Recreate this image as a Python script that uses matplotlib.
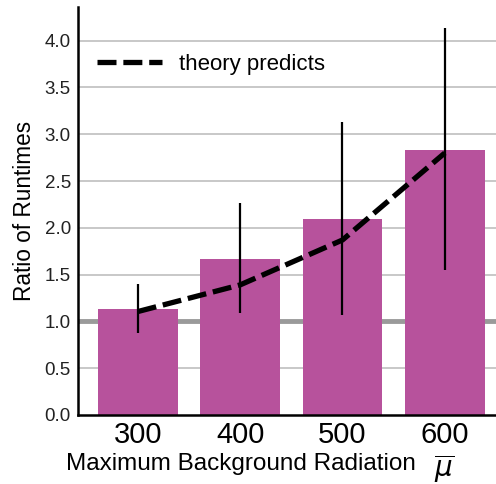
import numpy as np
import matplotlib.pyplot as plt

plt.rcParams['font.family'] = ['Liberation Sans', 'DejaVu Sans']

# datos
radiacion = ['300', '400', '500', '600']
ratio = [1.13, 1.665, 2.09, 2.83]
err_bajo = [0.88, 1.09, 1.07, 1.55]
err_alto = [1.40, 2.26, 3.13, 4.13]
teoria = [1.105, 1.39, 1.87, 2.80]

x = np.arange(len(radiacion))

fig = plt.figure(figsize=(4.96, 4.84), dpi=100)
ax = fig.add_axes([0.157, 0.1426, 0.843, 0.843])

# cuadricula y linea de referencia
for y in np.arange(0.5, 4.5, 0.5):
    ax.axhline(y, color='#c4c4c4', lw=1.3, zorder=0)
ax.axhline(1.0, color='#9a9a9a', lw=3.5, zorder=0.5)

ax.bar(x, ratio, width=0.78, color='#b7529c', zorder=1)
ax.vlines(x, err_bajo, err_alto, color='black', lw=1.6, zorder=3)
ax.plot(x, teoria, color='black', lw=3.8, dashes=(3.6, 1.3),
        label='theory predicts', zorder=4)

ax.set_xlim(-0.585, 3.5)
ax.set_ylim(0, 4.36)
ax.set_yticks(np.arange(0, 4.5, 0.5))
ax.set_yticklabels([f'{v:.1f}' for v in np.arange(0, 4.5, 0.5)], fontsize=13.5, color='#222222')
ax.set_xticks(x)
ax.set_xticklabels(radiacion, fontsize=21)
ax.tick_params(length=0, pad=5)
ax.tick_params(axis='x', pad=4)

for s in ['top', 'right']:
    ax.spines[s].set_visible(False)
for s in ['left', 'bottom']:
    ax.spines[s].set_linewidth(1.8)

ax.set_ylabel('Ratio of Runtimes', fontsize=16.3, labelpad=6)
ax.set_xlabel('Maximum Background Radiation', fontsize=17.5, labelpad=3)
# simbolo mu con barra, mas grande
ax.text(0.876, -0.132, r'$\overline{\mu}$', transform=ax.transAxes,
        fontsize=20, ha='center', va='center')
ax.xaxis.label.set_position((0.39, 0))

leg = ax.legend(loc='center left', fontsize=16, frameon=True, framealpha=1,
                edgecolor='none', handlelength=2.9, borderaxespad=0,
                bbox_to_anchor=(0.025, 0.86))
leg.set_zorder(5)

plt.savefig('out.png')
